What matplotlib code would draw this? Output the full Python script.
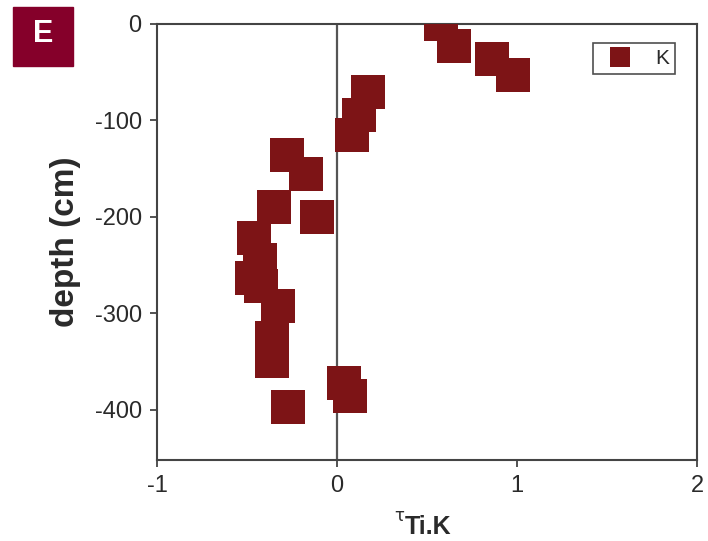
import matplotlib
matplotlib.use("Agg")
import matplotlib.pyplot as plt
from matplotlib.patches import Rectangle

plt.rcParams['font.family'] = ['Liberation Sans', 'DejaVu Sans']
plt.rcParams['axes.unicode_minus'] = False

# tau Ti.K values and depths (cm)
tau_k = [0.58, 0.65, 0.86, 0.98, 0.17, 0.12, 0.085, -0.28, -0.17, -0.35,
         -0.11, -0.46, -0.43, -0.47, -0.42, -0.33, -0.36, -0.36, -0.27, 0.04, 0.07]
depth = [0, -23, -36, -53, -70, -94, -115, -136, -155, -190,
         -200, -222, -245, -263, -272, -292, -326, -349, -397, -372, -386]

mark_col = '#7d1416'
axis_col = '#444444'

fig = plt.figure(figsize=(7.08, 5.41), dpi=100)
ax = fig.add_axes([157/708, 1-460/541, 540/708, 436/541])

ax.axvline(0, color='#555555', lw=1.6, zorder=1)
ax.plot(tau_k, depth, 's', color=mark_col, ms=24.5, mew=0, label='K', zorder=3)

ax.set_xlim(-1, 2)
ax.set_ylim(-452, 0)
ax.set_xticks([-1, 0, 1, 2])
ax.set_yticks([0, -100, -200, -300, -400])
ax.tick_params(direction='out', length=5, width=1.3, color=axis_col,
               labelsize=17, labelcolor='#2a2a2a', pad=6)
for s in ax.spines.values():
    s.set_color(axis_col)
    s.set_linewidth(1.5)

ax.set_ylabel('depth (cm)', fontsize=24, fontweight='bold', color='#2a2a2a', labelpad=10)

leg = ax.legend(loc='upper right', bbox_to_anchor=(0.96, 0.957), fontsize=15,
                frameon=True, fancybox=False, markerscale=0.6, handlelength=2.0,
                handletextpad=0.7, borderpad=0.3, borderaxespad=0,
                labelcolor='#2a2a2a')
leg.get_frame().set_edgecolor('#222222')
leg.get_frame().set_linewidth(1.2)

# x label: small tau with bold Ti.K
fig.text(399/708, 1-516/541, 'τ', fontsize=12, ha='center', va='center',
         color='#2a2a2a', family=['DejaVu Sans'])
fig.text(405/708, 1-527/541, 'Ti.K', fontsize=18, fontweight='bold',
         ha='left', va='center', color='#2a2a2a')

# panel label
fig.patches.append(Rectangle((13/708, 1-66/541), 60/708, 59/541,
                             transform=fig.transFigure, color='#85002a'))
fig.text(43/708, 1-34/541, 'E', fontsize=22, fontweight='bold', color='white',
         ha='center', va='center')

fig.savefig('out.png', dpi=100)
